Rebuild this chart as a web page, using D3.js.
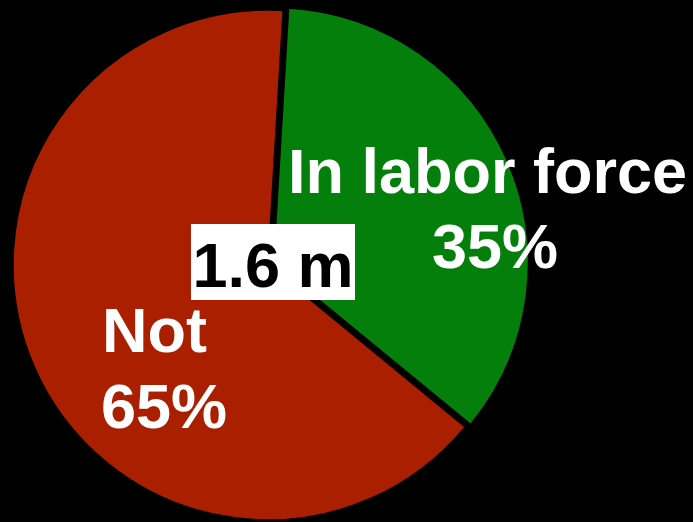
<!DOCTYPE html>
<html><head><meta charset="utf-8">
<script src="https://cdn.jsdelivr.net/npm/d3@7/dist/d3.min.js"></script>
<style>html,body{margin:0;padding:0;background:#000;}svg{display:block;}</style>
</head><body><div id="chart"></div>
<script>
const categories = ["In labor force", "Not"];
const values = [35, 65];
const percentLabels = ["35%", "65%"];
const colors = ["#047f0c", "#aa1f00"];
const totalLabel = "1.6 m";

const W = 693, H = 522;
const cx = 268, cy = 265, R = 255;
const svg = d3.select("#chart").append("svg").attr("width", W).attr("height", H)
  .style("background", "#000");

const start = 3.4 * Math.PI / 180;
const pie = d3.pie().sort(null).startAngle(start).endAngle(start + 2 * Math.PI);
const arcs = pie(values);
const arc = d3.arc().innerRadius(0).outerRadius(R);
const explode = [6, 0];

const g = svg.append("g").attr("transform", `translate(${cx},${cy})`);
g.selectAll("path").data(arcs).join("path")
  .attr("d", arc)
  .attr("fill", (d, i) => colors[i])
  .attr("stroke", "#000").attr("stroke-width", 1.5)
  .attr("transform", (d, i) => {
    const a = (d.startAngle + d.endAngle) / 2;
    return `translate(${explode[i] * Math.sin(a)},${-explode[i] * Math.cos(a)})`;
  });

const font = "'Liberation Sans', Arial, Helvetica, sans-serif";
function txt(x, y, s, anchor, fill) {
  svg.append("text").attr("x", x).attr("y", y).attr("text-anchor", anchor)
    .attr("font-family", font).attr("font-weight", "bold").attr("font-size", 63)
    .attr("fill", fill || "#fff").text(s);
}
// green label
txt(687, 193, categories[0], "end");
txt(495, 268, percentLabels[0], "middle");
// red label
txt(102, 352, categories[1], "start");
txt(101, 428, percentLabels[1], "start");

// centre box
const bx = 191, by = 224, bw = 164, bh = 76;
svg.append("rect").attr("x", bx).attr("y", by).attr("width", bw).attr("height", bh).attr("fill", "#fff");
txt(bx + bw / 2, 287, totalLabel, "middle", "#000");
</script></body></html>
